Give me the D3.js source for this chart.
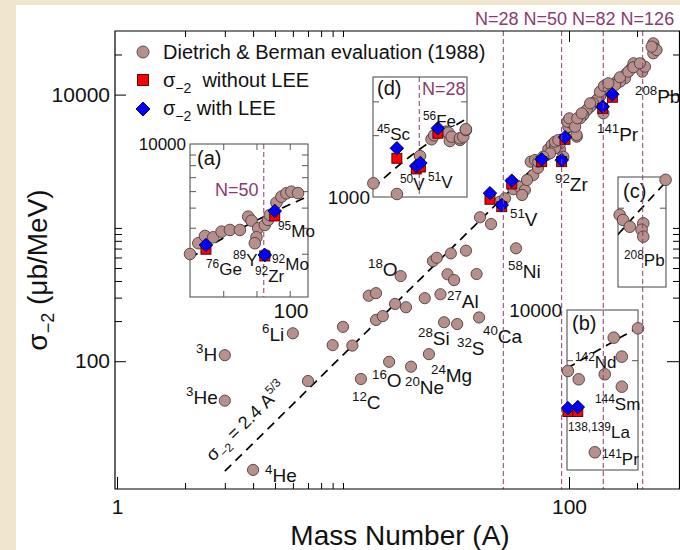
<!DOCTYPE html>
<html><head><meta charset="utf-8">
<script src="https://cdn.jsdelivr.net/npm/d3@7/dist/d3.min.js"></script>
<style>body{margin:0;background:#fff}svg{display:block}</style>
</head><body><svg id="c" width="680" height="550"></svg>
<script>
// ---------------- data ----------------
const mainA = [3,3,4,6,7,9,10,11,12,13,14,14,15,16,17,18,19,20,23,24,25,26,27,28,29,30,31,32,35,39,40,40.4,45.2,58.3,
 49.5,52.1,56.7,60.3,63.8,69.5,67.7,70.7,72.9,79.7,81,83.8,86.7,88.8,91.2,94.4,99.3,102.8,108.2,111.9,117.7,121.7,126,130.3,134.9,146.9,154.5,162.6,171,180,189,199.5,211,217,193,177,168,160,147,142,137,132.6,128,123.9,119.8,115.7,112,142,108,91.2,86.7,82.4,236,240,236,244,232,
 76.9,73.1,86.7,89.7,98.3,100.3,106.4,108.8,113.8,124,137,142.8,149.3,168,183,192.6,206,65.2,62];
const mainSigma = [111,50.6,15.3,162,71,132,181,131,73.6,310,324,204,218,99,269,435,254,91,297,113,564,597,318,196,449,644,406,190,675,451,213,1202,1070,703,
 1573,1667,1950,2039,1924,2494,3139,3228,2818,3523,3890,4188,4027,4313,3890,3420,5741,6093,4831,6823,7447,7888,8356,8851,9376,11460,11800,12500,13250,14450,15750,16700,14860,16200,17180,13250,12500,11800,11140,10520,9640,9100,8600,8110,7670,7030,6640,7240,4980,4313,3955,3630,24260,22230,20400,21600,22900,
 3421,3139,4436,4560,6266,6640,5741,6640,7244,8610,10520,11610,12170,13490,14860,16030,17180,2288,1766];
const leeA = [44.7,50.4,55.8,75.7,92.8,96,141,155.5];
const sigmaNoLEE = [1640,1443,2135,3140,3140,4620,7890,9550];
const sigmaLEE = [1820,1486,2260,3267,3228,4786,8115,10050];
const shellA = [51.2,92.8,141.8,211.9];
const shellText = "N=28 N=50 N=82 N=126";
const fitCoef = 2.4, fitExp = 5/3, fitRange = [3,215];
const xTickMinor = [2,3,4,5,6,7,8,9,10,200];
const xTickMajor = [1,100];
const yTickMinor = [200,300,400,500,600,700,800,900,1000,20000];
const yTickMajor = [100,10000];
const legendText = ["Dietrich & Berman evaluation (1988)","without LEE","with LEE"];
const mainLabels = [["3","H"],["3","He"],["4","He"],["6","Li"],["12","C"],["16","O"],["18","O"],["20","Ne"],["24","Mg"],["27","Al"],["28","Si"],["32","S"],["40","Ca"],["51","V"],["58","Ni"],["92","Zr"],["141","Pr"],["208","Pb"]];
// inset (a)
const aA = [70,72.5,74.5,77,79.5,82,85,87.5,88.5,90.5,90,89.5,92.5,93.5,94,96,97.5,99,100.5,102.5,92.5];
const aS = [2992,3370,3652,3600,3830,3903,3903,4522,4325,3977,3600,3370,4125,4360,4608,5280,5640,5857,5963,5870,2958];
const aLeeA = [74.8,92.5,95.5], aNo = [3153,2926,4557], aWith = [3305,2958,4817];
const aLabels = [["76","Ge"],["89","Y"],["92","Zr"],["92","Mo"],["95","Mo"]];
// inset (d)
const dA = [38.7,45,51.2,54.3,55,58.2,58.8,59.2,59.7,61.9,61.9,62.8,63.5,63.5];
const dS = [1123,988,1558,1905,1998,2086,2061,1866,1963,1888,1928,1963,2128,2147];
const dLeeA = [45,50.2,51.3,56], dNo = [1516,1334,1365,2047], dWith = [1709,1382,1432,2173];
const dLabels = [["56","Fe"],["45","Sc"],["50","V"],["51","V"]];
// inset (b)
const bA = [138,139.2,142.1,143.1,144,144,145.8,141];
const bS = [8781,8616,8715,9474,9073,8472,9678,7295];
const bLeeA = [138,139.1], bNo = [8006,8006], bWith = [8067,8087];
const bLabels = [["142","Nd"],["144","Sm"],["138,139","La"],["141","Pr"]];
// inset (c)
const cA = [213.4,202.5,203.3,204.9,208.1,207.7,208.1];
const cS = [18370,17280,17130,16930,17030,16840,16640];
const cLabels = [["208","Pb"]];

// ---------------- drawing ----------------
const FONT = '"Liberation Sans", Arial, Helvetica, sans-serif';
const BROWN = "#b98f8c", EDGE = "#4a4040", PURPLE = "#8a3a6e";
const svg = d3.select("#c").style("font-family", FONT);
svg.append("rect").attr("width",680).attr("height",550).attr("fill","#efe6cd");
svg.append("rect").attr("x",16).attr("y",5).attr("width",664).attr("height",545).attr("fill","#fff");

const L=115,R=680,T=31,B=489;
const x = d3.scaleLog().domain([Math.pow(10,-2/226), Math.pow(10,563/226)]).range([L,R]);
const y = d3.scaleLog().domain([11,30000]).range([B,T]);

svg.append("defs").append("clipPath").attr("id","plotclip").append("rect")
  .attr("x",L).attr("y",T).attr("width",R-L).attr("height",B-T);

// fit line
const fitFn = a => fitCoef*Math.pow(a,fitExp);
function fitPts(range, n){ const out=[]; const l0=Math.log(range[0]), l1=Math.log(range[1]); for(let i=0;i<=n;i++){const a=Math.exp(l0+(l1-l0)*i/n); out.push([a,fitFn(a)]);} return out; }
svg.append("path").attr("clip-path","url(#plotclip)")
  .attr("d", d3.line().x(d=>x(d[0])).y(d=>y(d[1]))(fitPts(fitRange,60)))
  .attr("fill","none").attr("stroke","#000").attr("stroke-width",1.7).attr("stroke-dasharray","9,6");

// main points
const mainPts = mainA.map((a,i)=>[a,mainSigma[i]]);
svg.append("g").selectAll("circle").data(mainPts).join("circle")
  .attr("cx",d=>x(d[0])).attr("cy",d=>y(d[1])).attr("r",5.6)
  .attr("fill",BROWN).attr("stroke",EDGE).attr("stroke-width",0.9);

function markers(g, xs, ys, A, no, wi, s){
  g.append("g").selectAll("rect").data(A.map((a,i)=>[a,no[i]])).join("rect")
   .attr("x",d=>xs(d[0])-s/2).attr("y",d=>ys(d[1])-s/2).attr("width",s).attr("height",s)
   .attr("fill","#f00").attr("stroke","#400").attr("stroke-width",0.9);
  const dd = s*0.68;
  g.append("g").selectAll("path").data(A.map((a,i)=>[a,wi[i]])).join("path")
   .attr("d",d=>{const cx=xs(d[0]),cy=ys(d[1]);return `M${cx},${cy-dd}L${cx+dd},${cy}L${cx},${cy+dd}L${cx-dd},${cy}Z`;})
   .attr("fill","#00f").attr("stroke","#002").attr("stroke-width",0.9);
}
markers(svg, x, y, leeA, sigmaNoLEE, sigmaLEE, 10);

// isotope label helper
function iso(g, px, py, mass, el, size){
  const t = g.append("text").attr("x",px).attr("y",py).attr("fill","#111").attr("font-size",size);
  t.append("tspan").attr("font-size",size*0.7).attr("dy",-size*0.42).text(mass);
  t.append("tspan").attr("dy",size*0.42).text(el);
}
const mainLabelPos = [[196,361],[186,404],[265,482],[262,341],[352,409],[372,387],[368,276],[405,394],[431,382],[447,308],[418,345],[457,355],[483,343],[510,226],[508,278],[555,191],[597,141],[635,103]];
mainLabels.forEach((l,i)=>iso(svg, mainLabelPos[i][0], mainLabelPos[i][1], l[0], l[1], 19));

// rotated fit label
const ft = svg.append("text").attr("transform","translate(213,462) rotate(-44.5)").attr("font-size",18).attr("fill","#111");
ft.append("tspan").text("σ");
ft.append("tspan").attr("font-size",12).attr("dy",5).text("−2");
ft.append("tspan").attr("dy",-5).text(" = 2.4 A");
ft.append("tspan").attr("font-size",12).attr("dy",-8).text("5/3");

// ---------------- insets ----------------
function inset(cfg){
  const g = svg.append("g");
  const [x0,y0,x1,y1] = cfg.box;
  g.append("rect").attr("x",x0).attr("y",y0).attr("width",x1-x0).attr("height",y1-y0)
    .attr("fill","#fff").attr("stroke","#555").attr("stroke-width",1.1);
  const xs = d3.scaleLinear().domain(cfg.xd).range([x0,x1]);
  const ys = d3.scaleLog().domain(cfg.yd).range([y1,y0]);
  const id = "clip"+cfg.name;
  svg.select("defs").append("clipPath").attr("id",id).append("rect").attr("x",x0).attr("y",y0).attr("width",x1-x0).attr("height",y1-y0);
  if(cfg.yt){
    g.append("g").attr("transform",`translate(${x0},0)`).call(d3.axisLeft(ys).tickValues(cfg.yt).tickSize(-6).tickFormat(""))
     .call(s=>{s.select(".domain").remove(); s.selectAll("line").attr("stroke","#555");});
    g.append("g").attr("transform",`translate(${x1},0)`).call(d3.axisRight(ys).tickValues(cfg.yt).tickSize(-6).tickFormat(""))
     .call(s=>{s.select(".domain").remove(); s.selectAll("line").attr("stroke","#555");});
  }
  if(cfg.xt){
    g.append("g").attr("transform",`translate(0,${y1})`).call(d3.axisBottom(xs).tickValues(cfg.xt).tickSize(-6).tickFormat(""))
     .call(s=>{s.select(".domain").remove(); s.selectAll("line").attr("stroke","#555");});
    g.append("g").attr("transform",`translate(0,${y0})`).call(d3.axisTop(xs).tickValues(cfg.xt).tickSize(-6).tickFormat(""))
     .call(s=>{s.select(".domain").remove(); s.selectAll("line").attr("stroke","#555");});
  }
  if(cfg.nA){
    g.append("line").attr("x1",xs(cfg.nA)).attr("x2",xs(cfg.nA)).attr("y1",y0).attr("y2",y1)
     .attr("stroke",PURPLE).attr("stroke-width",1).attr("stroke-dasharray","5,3");
  }
  const fp = [];
  for(let i=0;i<=20;i++){const a=cfg.xd[0]+(cfg.xd[1]-cfg.xd[0])*i/20; fp.push([a,fitFn(a)]);}
  g.append("path").attr("clip-path",`url(#${id})`).attr("d",d3.line().x(d=>xs(d[0])).y(d=>ys(d[1]))(fp))
   .attr("fill","none").attr("stroke","#000").attr("stroke-width",1.7).attr("stroke-dasharray","9,6");
  g.append("g").selectAll("circle").data(cfg.A.map((a,i)=>[a,cfg.S[i]])).join("circle")
   .attr("cx",d=>xs(d[0])).attr("cy",d=>ys(d[1])).attr("r",5.8)
   .attr("fill",BROWN).attr("stroke",EDGE).attr("stroke-width",0.9);
  if(cfg.leeA) markers(g, xs, ys, cfg.leeA, cfg.no, cfg.wi, 10);
  g.append("text").attr("x",cfg.tag[0]).attr("y",cfg.tag[1]).attr("font-size",20).attr("fill","#111").text(cfg.tagText);
  if(cfg.nText) g.append("text").attr("x",cfg.nText[0]).attr("y",cfg.nText[1]).attr("font-size",18).attr("fill",PURPLE).text(cfg.nText[2]);
  cfg.labels.forEach((l,i)=>iso(g, cfg.lpos[i][0], cfg.lpos[i][1], l[0], l[1], 17));
  if(cfg.tl) cfg.tl.forEach(t=>g.append("text").attr("x",t[0]).attr("y",t[1]).attr("font-size",t[3]).attr("text-anchor",t[4]).attr("fill","#111").text(t[2]));
}
inset({name:"a", box:[190,144,308,297], xd:[70,105.5], yd:[1858,10111],
  A:aA, S:aS, leeA:aLeeA, no:aNo, wi:aWith, nA:92.2,
  yt:[3000,4000,5000,6000,7000,8000,9000], xt:[80,90,100],
  tag:[197,165], tagText:"(a)", nText:[215,196,"N=50"],
  labels:aLabels, lpos:[[206,275],[233,266],[255,282],[272,270],[278,237]],
  tl:[[186,150,"10000",17,"end"],[291,318,"100",21,"middle"]]});
inset({name:"d", box:[373,77,467,197], xd:[38.6,63.8], yd:[953,4018],
  A:dA, S:dS, leeA:dLeeA, no:dNo, wi:dWith, nA:51,
  yt:[2000,3000],
  tag:[377,95], tagText:"(d)", nText:[422,95,"N=28"],
  labels:dLabels, lpos:[[423,127],[377,140],[400,190],[428,188]],
  tl:[[370,204,"1000",19,"end"]]});
inset({name:"b", box:[567,310,638,470], xd:[137.9,145.8], yd:[7006,10091],
  A:bA, S:bS, leeA:bLeeA, no:bNo, wi:bWith,
  yt:[9000],
  tag:[572,330], tagText:"(b)",
  labels:bLabels, lpos:[[575,368],[595,410],[568,438],[602,465]],
  tl:[[562,317,"10000",19,"end"]]});
inset({name:"c", box:[618,177,666,287], xd:[202.1,213.5], yd:[15245,18460],
  A:cA, S:cS, yt:[17500],
  tag:[623,198], tagText:"(c)",
  labels:cLabels, lpos:[[624,266]]});

// shell closure lines
svg.append("g").selectAll("line").data(shellA).join("line")
  .attr("x1",d=>x(d)).attr("x2",d=>x(d)).attr("y1",T).attr("y2",B)
  .attr("stroke",PURPLE).attr("stroke-width",1).attr("stroke-dasharray","5,3");
svg.append("text").attr("x",475).attr("y",25).attr("font-size",18).attr("fill",PURPLE).text(shellText);

// ---------------- axes ----------------
function styleAxis(s){ s.select(".domain").remove(); s.selectAll("line").attr("stroke","#000"); s.selectAll("text").attr("font-family",FONT).attr("font-size",21).attr("fill","#111"); }
svg.append("g").attr("transform",`translate(0,${B})`).call(d3.axisBottom(x).tickValues(xTickMinor).tickSize(-6).tickFormat("")).call(styleAxis);
svg.append("g").attr("transform",`translate(0,${B})`).call(d3.axisBottom(x).tickValues(xTickMajor).tickSize(-12).tickPadding(10).tickFormat(d3.format("d"))).call(styleAxis);
svg.append("g").attr("transform",`translate(0,${T})`).call(d3.axisTop(x).tickValues(xTickMinor).tickSize(-6).tickFormat("")).call(styleAxis);
svg.append("g").attr("transform",`translate(0,${T})`).call(d3.axisTop(x).tickValues([100]).tickSize(-11).tickFormat("")).call(styleAxis);
svg.append("g").attr("transform",`translate(${L},0)`).call(d3.axisLeft(y).tickValues(yTickMinor).tickSize(-7).tickFormat("")).call(styleAxis);
svg.append("g").attr("transform",`translate(${L},0)`).call(d3.axisLeft(y).tickValues(yTickMajor).tickSize(-11).tickPadding(5).tickFormat(d3.format("d"))).call(styleAxis);
svg.append("g").attr("transform",`translate(${R},0)`).call(d3.axisRight(y).tickValues(yTickMinor).tickSize(-7).tickFormat("")).call(styleAxis);
svg.append("g").attr("transform",`translate(${R},0)`).call(d3.axisRight(y).tickValues(yTickMajor).tickSize(-13).tickFormat("")).call(styleAxis);
// frame
svg.append("path").attr("d",`M${R},${T}H${L}V${B}H${R}`).attr("fill","none").attr("stroke","#000").attr("stroke-width",1.2);
svg.append("line").attr("x1",R-0.5).attr("x2",R-0.5).attr("y1",T).attr("y2",B).attr("stroke","#000").attr("stroke-width",1.2);

// axis titles
svg.append("text").attr("x",400).attr("y",545).attr("text-anchor","middle").attr("font-size",28).attr("fill","#111").text("Mass Number (A)");
const yl = svg.append("text").attr("transform","translate(47,270) rotate(-90)").attr("text-anchor","middle").attr("font-size",28).attr("fill","#111");
yl.append("tspan").text("σ");
yl.append("tspan").attr("font-size",18).attr("dy",7).text("−2");
yl.append("tspan").attr("dy",-7).text(" (μb/MeV)");

// ---------------- legend ----------------
const lg = svg.append("g");
lg.append("circle").attr("cx",143).attr("cy",52).attr("r",6).attr("fill",BROWN).attr("stroke",EDGE).attr("stroke-width",0.9);
lg.append("rect").attr("x",137.5).attr("y",74.5).attr("width",11).attr("height",11).attr("fill","#f00").attr("stroke","#400").attr("stroke-width",0.9);
lg.append("path").attr("d","M143,102L150,109L143,116L136,109Z").attr("fill","#00f").attr("stroke","#002").attr("stroke-width",0.9);
lg.append("text").attr("x",163).attr("y",59).attr("font-size",20).attr("fill","#111").text(legendText[0]);
[[87,legendText[1],"  "],[115,legendText[2]," "]].forEach(r=>{
  const t = lg.append("text").attr("x",163).attr("y",r[0]).attr("font-size",20).attr("fill","#111").attr("xml:space","preserve");
  t.append("tspan").text("σ");
  t.append("tspan").attr("font-size",14).attr("dy",6).text("−2");
  t.append("tspan").attr("dy",-6).text(r[2]+r[1]);
});
</script></body></html>
